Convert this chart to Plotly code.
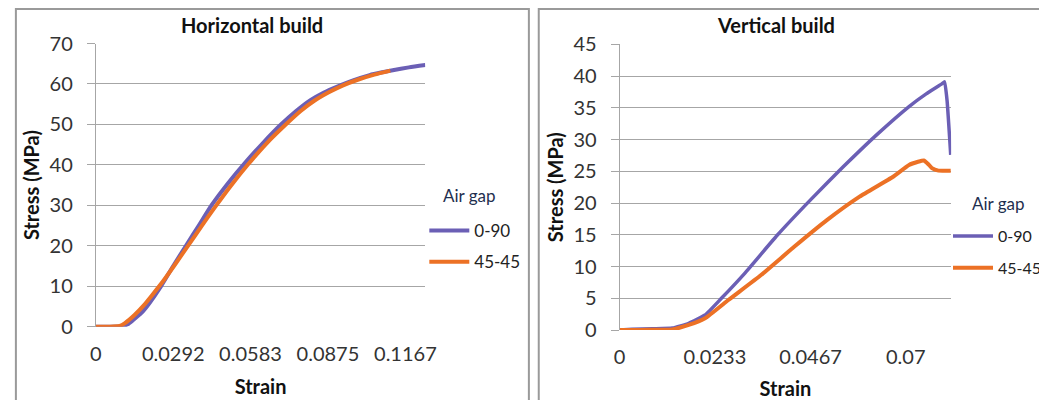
import plotly.graph_objects as go

# ---- data ----
h_090_strain = [0, 0.005, 0.0097, 0.012, 0.014, 0.0172, 0.0202, 0.0245, 0.0290, 0.0338, 0.0390, 0.0437, 0.0500,
                0.0561, 0.0630, 0.0697, 0.0755, 0.0809, 0.0860, 0.0908, 0.0970, 0.1032, 0.1080, 0.1119, 0.1180, 0.1242]
h_090_stress = [0, 0, 0.1, 0.6, 1.6, 3.4, 5.8, 9.9, 14.8, 19.8, 25.2, 30.1, 35.6,
                40.4, 45.4, 49.9, 53.3, 56.0, 57.9, 59.3, 60.9, 62.2, 62.9, 63.4, 64.1, 64.7]

h_4545_strain = [0, 0.005, 0.0090, 0.0110, 0.0146, 0.0180, 0.0210, 0.0252, 0.0300, 0.0350, 0.0400, 0.0450,
                 0.0510, 0.0575, 0.0645, 0.0715, 0.0770, 0.0825, 0.0880, 0.0930, 0.0990, 0.1050, 0.1110]
h_4545_stress = [0, 0, 0.2, 0.9, 2.9, 5.2, 7.6, 11.1, 15.5, 20.2, 25.0, 29.6,
                 34.9, 40.2, 45.4, 49.9, 53.2, 55.9, 58.0, 59.6, 61.1, 62.3, 63.3]

v_090_strain = [0, 0.003, 0.008, 0.0129, 0.0169, 0.0209, 0.0249, 0.0306, 0.0386, 0.0467, 0.0547, 0.0628,
                0.0708, 0.0750, 0.0789, 0.0795, 0.0801, 0.0810]
v_090_stress = [0, 0.1, 0.2, 0.3, 1.05, 2.36, 4.99, 8.93, 14.96, 20.5, 25.7, 30.7,
                35.2, 37.2, 38.8, 39.1, 36.2, 27.6]

v_4545_strain = [0, 0.005, 0.010, 0.0129, 0.0169, 0.0209, 0.0266, 0.0346, 0.0427, 0.0507, 0.0587, 0.0668,
                 0.0708, 0.0730, 0.0744, 0.0754, 0.0764, 0.0780, 0.0810]
v_4545_stress = [0, 0, 0.05, 0.1, 0.79, 1.84, 4.72, 8.66, 13.1, 17.3, 21.0, 24.1,
                 26.0, 26.5, 26.7, 26.2, 25.5, 25.1, 25.1]

h_xticks = [0, 0.0292, 0.0583, 0.0875, 0.1167]
h_xlabels = ["0", "0.0292", "0.0583", "0.0875", "0.1167"]
v_xticks = [0, 0.0233, 0.0467, 0.07]
v_xlabels = ["0", "0.0233", "0.0467", "0.07"]

series_names = ["0-90", "45-45"]
colors = ["#6B5FB5", "#EC7125"]

FONT = "Lato"
OX, OY = 0, 8                # observed page offset of the figure
W, H = 1039, 392


def xp(px):                  # page pixel -> paper x
    return (px - OX) / W


def yp(py):                  # page pixel -> paper y
    return 1 - (py - OY) / H


fig = go.Figure()

fig.add_trace(go.Scatter(x=h_090_strain, y=h_090_stress, mode="lines", name=series_names[0],
                         line=dict(color=colors[0], width=4, shape="spline", smoothing=0.6), xaxis="x", yaxis="y",
                         legend="legend", legendgroup="a"))
fig.add_trace(go.Scatter(x=h_4545_strain, y=h_4545_stress, mode="lines", name=series_names[1],
                         line=dict(color=colors[1], width=4, shape="spline", smoothing=0.6), xaxis="x", yaxis="y",
                         legend="legend", legendgroup="b"))
fig.add_trace(go.Scatter(x=v_090_strain, y=v_090_stress, mode="lines", name=series_names[0],
                         line=dict(color=colors[0], width=3.5, shape="spline", smoothing=0.4), xaxis="x2", yaxis="y2",
                         legend="legend2", legendgroup="c"))
fig.add_trace(go.Scatter(x=v_4545_strain, y=v_4545_stress, mode="lines", name=series_names[1],
                         line=dict(color=colors[1], width=4, shape="spline", smoothing=0.4), xaxis="x2", yaxis="y2",
                         legend="legend2", legendgroup="d"))

tickfont = dict(family=FONT, size=20, color="#333333")
titlefont = dict(family=FONT, size=20, color="#111111", weight="bold")

axis_common_x = dict(showgrid=False, showline=False, zeroline=False, ticks="", tickfont=tickfont,
                     tickmode="array", ticklabelstandoff=13, automargin=False)
axis_common_y = dict(showgrid=True, gridcolor="#A6A6A6", gridwidth=1, showline=True, linecolor="#A6A6A6",
                     linewidth=1, zeroline=False, ticks="outside", ticklen=8, tickcolor="#A6A6A6",
                     tickfont=tickfont, automargin=False, ticklabelstandoff=10)

legend_title_font = dict(family=FONT, size=17, color="#1F2F4F")
legend_font = dict(family=FONT, size=17, color="#222222")
legend2_font = dict(family=FONT, size=16, color="#222222")

fig.update_layout(
    width=W, height=H,
    margin=dict(l=0, r=0, t=0, b=0),
    paper_bgcolor="white", plot_bgcolor="white",
    font=dict(family=FONT),
    xaxis=dict(domain=[xp(89), xp(423)], range=[0, 0.1242], tickvals=h_xticks, ticktext=h_xlabels,
               title=dict(text="Strain", font=titlefont, standoff=16), anchor="y", **axis_common_x),
    yaxis=dict(domain=[yp(326.7), yp(43.5)], range=[0, 70], dtick=10,
               title=dict(text="Stress (MPa)", font=titlefont, standoff=4), anchor="x", **axis_common_y),
    xaxis2=dict(domain=[xp(620), xp(956)], range=[0, 0.0811], tickvals=v_xticks, ticktext=v_xlabels,
                title=dict(text="Strain", font=titlefont, standoff=14), anchor="y2", **axis_common_x),
    yaxis2=dict(domain=[yp(330), yp(44.3)], range=[0, 45], dtick=5,
                title=dict(text="Stress (MPa)", font=titlefont, standoff=4), anchor="x2", **axis_common_y),
    legend=dict(x=xp(422), xanchor="left", y=yp(213), yanchor="top",
                font=legend_font, tracegroupgap=6,
                bgcolor="rgba(0,0,0,0)", itemwidth=40),
    legend2=dict(x=xp(953), xanchor="left", y=yp(219), yanchor="top",
                 font=legend2_font, tracegroupgap=8,
                 bgcolor="rgba(0,0,0,0)", itemwidth=40),
    showlegend=True,
)

# legend titles
fig.add_annotation(text="Air gap", x=xp(468), y=yp(195), xref="paper", yref="paper", showarrow=False,
                   font=legend_title_font, xanchor="center", yanchor="middle")
fig.add_annotation(text="Air gap", x=xp(1004), y=yp(203), xref="paper", yref="paper", showarrow=False,
                   font=legend_title_font, xanchor="center", yanchor="middle")

# chart titles
fig.add_annotation(text="<b>Horizontal build</b>", x=xp(247), y=yp(25), xref="paper", yref="paper",
                   showarrow=False, font=dict(family=FONT, size=20, color="#111111"),
                   xanchor="center", yanchor="middle")
fig.add_annotation(text="<b>Vertical build</b>", x=xp(778), y=yp(25), xref="paper", yref="paper",
                   showarrow=False, font=dict(family=FONT, size=20, color="#111111"),
                   xanchor="center", yanchor="middle")

# chart-area borders
fig.add_shape(type="rect", xref="paper", yref="paper", x0=xp(8), x1=xp(528), y0=-0.05, y1=yp(9),
              line=dict(color="#9A9A9A", width=2))
fig.add_shape(type="rect", xref="paper", yref="paper", x0=xp(538), x1=1.05, y0=-0.05, y1=yp(9),
              line=dict(color="#9A9A9A", width=2))

fig.write_html("out.html")
